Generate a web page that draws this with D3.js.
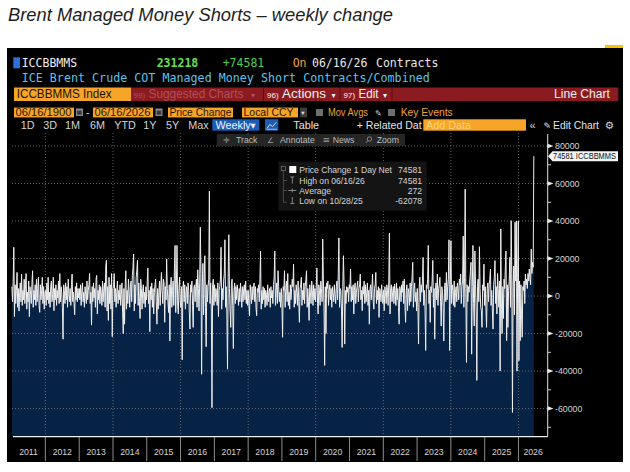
<!DOCTYPE html>
<html>
<head>
<meta charset="utf-8">
<script src="https://cdn.jsdelivr.net/npm/d3@7"></script>
<style>
  body { margin: 0; background: #fff; }
  svg { display: block; }
</style>
</head>
<body>
<div id="chart"></div>
<script>
// weekly change in managed money short contracts, thousands
var chg2011 = [5,-3,8,26,-11,6,-4,3,12.6,-6,4,-8,2,7,-3,11.7,-5,3,-2,9,-4,6,12,-7,2,-3,8,-11,5,1,-4,7,13.5,-6,3,-2,6,-5,9,-3,4,10,-5,-8.7,6,-2,3,10,-4,5,-7,2];
var chg2012 = [3,-5,7,-2,10,-4,2,-6,5,8,-3,1,10,-7.8,4,-2,6,-5,3,-1,8,-4,12,-3,5,2,-6,-23,6,3,-4,7,-2,5,-6,9,1,-3,4,-5,6,11.7,-3,2,-4,-10,5,-2,7,-3,4,-1];
var chg2013 = [4,-2,6,-5,3,7,-3,2,-6,5,1,-4,8,-2,3,6,12,-4,2,-15.5,5,-3,7,-1,4,-6,9,11,-9.6,3,-2,6,-4,5,2,-5,8,-3,4,7,-6,16,19,-8,5,-13,10,-4,6,-7,12,-21.7,4];
var chg2014 = [5,12,-3,4,-6,2,8,-4,3,-2,6,-5,1,7,-9,-20,4,-15,6,13.5,-7,3,-4,9,2,-6,5,8,-3,11,15,22.4,-8,6,-4,10,14,19,-5,7,-3,-12,9,4,-7,3,6,-4,2,-6,5,-2];
var chg2015 = [8,15,-4,3,-19,5,-2,7,-6,4,-9.6,2,6,9,-3,-15,4,-7,2,8,-5,6,12.6,3,-4,9,7,-14,5,-2,19.8,4,-3,-8.8,6,-24,5,10,-6,3,8,-5,14,27,-8.8,6,27,-5,-9.6,4,10,-3];
var chg2016 = [-6,5,-34,4,8,-3,6,-7,2,5,-4,7,3,-9,-17.6,6,2,8,-5,-16.7,4,6,-3,5,9,-6,14,4,-8,7,36.7,12,-41.7,5,17.4,-10,8,21.5,-6,-27,6,-3,5,9,56,-4,7,-8,-59.5,6,9,-5];
var chg2017 = [6,-3,4,2,-5,7,-11,3,5,9,26,-7,4,-2,8,12,30,-6,5,-10,-39,10,32.7,4,-8,-16.7,6,9,-5,-28,3,7,-4,5,-2,6,1,-5,4,-3,7,2,-6,5,-3,4,6,-2,8,-4,3,-5];
var chg2018 = [3,-5,-10.5,6,2,-4,5,-2,4,7,-3,5,-6,-10.5,4,2,6,-3,9,24,-7,3,-4,5,-2,4,-6,3,1,-5,6,-3,2,4,-6,5,-1,3,-4,6,10,24,-5,3,7,-4,13.5,5,-3,2,-6,4];
var chg2019 = [-4,-22,5,3,13.5,-6,4,8,-3,12,-5,2,-7,6,-2,4,9,5,17,-6,3,-4,6,2,-5,8,-3,-14,4,6,10,-5,3,-2,7,-4,5,9,13.5,-6,4,-3,-13,6,2,-4,8,3,-5,6,-2,4,-3];
var chg2020 = [5,15,-4,-9.6,6,3,-5,8,4,-3,30.4,9,-6,-37,5,-20,7,4,8,-5,3,6,-2,4,-6,5,2,-3,6,1,-4,5,8,-2,12,31,-6,4,3,-8,-27.4,5,21.5,6,-25.6,3,-4,5,2,4.6,-3,6];
var chg2021 = [4,14.4,-3,5,-2,6,-9.6,3,7,-4,2,5,8,-3,4,6,11.7,-2,3,-7.8,5,1,8,-4,6,-3,2,7,-5,3,-15,4,6,-2,5,11.7,-3,-7,4,6,12.6,-4,3,-2,5,-11.4,4,2,-3,6,1,-4];
var chg2022 = [3,-7.8,5,2,-4,6,3,-5,8,33.6,-9.6,4,6,-3,2,5,-4,6.4,3,-5,7,-2,4,-6,-15,5,3,-3,6,2,8,-4,9,-5,-14,3,6,-7.8,4,2,-5,7,-3,5,10,18,-6,4,7,-3,2,-8];
var chg2023 = [4,-6,-25.6,5,10,-3,6,2,8,20.6,-5,3,-7,-29,6,4,9,27,-4,3,-14,5,2,8,19,-6,4,-23,3,7,-2,11.7,-5,4,6,10,-3,-16,5,2,-6,-24,4,7,-3,12.6,-2,5,9,30,-29,6];
var chg2024 = [29.5,-4,6,3,-5,8,-6,2,5,-3,7,4,-2,9,6,11.7,-4,5,8,32,-6,10,57,4,-35.4,6,-3,5,2,8,13,18,-31,5,27,-4,-16,24,6,-8,-45,5,9,-3,26.3,4,-6,-7.8,-16.7,6,3,17,-5];
var chg2025 = [5,-6,-16.7,4,7,-3,6,9,14.4,-5,3,-8,-17.6,6,10,18.9,-4,5,-9.6,12,4,-6,8,-40,35.8,-7,-20,5,-12,9,4,15,24,-23.8,6,-16.7,3,8,20.6,-6,40.2,12,-62.078,5,16,-10,39.3,8,40,-40,10,40];
var chg2026 = [-34.5,8,-23.8,6,-10,-22,5,3,8,-4,11.7,6,9,4,12,8,14.4,10,6,25,12,18,15.3,74.581];

var lastWeek = "2026-06-16";
var years = [2011,2012,2013,2014,2015,2016,2017,2018,2019,2020,2021,2022,2023,2024,2025,2026];
var yTickValues = [-60000,-40000,-20000,0,20000,40000,60000,80000];
var yMinorValues = [-70000,-50000,-30000,-10000,10000,30000,50000,70000];
var legendLabels = ["Price Change 1 Day Net","High on 06/16/26","Average","Low on 10/28/25"];
var legendValues = ["74581","74581","272","-62078"];

var sans = "'Liberation Sans', Arial, sans-serif";
var mono = "'DejaVu Sans Mono', monospace";
var icons = "'DejaVu Sans', sans-serif";

var weeklyK = [].concat(chg2011, chg2012, chg2013, chg2014, chg2015, chg2016, chg2017, chg2018,
  chg2019, chg2020, chg2021, chg2022, chg2023, chg2024, chg2025, chg2026);
var lastDate = d3.timeParse("%Y-%m-%d")(lastWeek);
var data = weeklyK.map(function(v, i) {
  return { date: d3.timeDay.offset(lastDate, -7 * (weeklyK.length - 1 - i)), value: v * 1000 };
});

var svg = d3.select("#chart")
  .append("svg")
    .attr("width", 630)
    .attr("height", 472);

function label(x, y, s, size, fill, family, weight) {
  return svg.append("text")
    .attr("x", x).attr("y", y)
    .style("font-family", family || sans)
    .style("font-size", size + "px")
    .style("font-weight", weight || "normal")
    .style("fill", fill)
    .text(s);
}
function fit(sel, w) {
  return sel.attr("textLength", w).attr("lengthAdjust", "spacingAndGlyphs");
}

// title above the screenshot
fit(label(8, 21, "Brent Managed Money Shorts \u2013 weekly change", 18, "#1e1e1e")
  .style("font-style", "italic"), 385);

// terminal panel
svg.append("rect").attr("x", 7).attr("y", 48).attr("width", 616).attr("height", 414).style("fill", "#000");
svg.append("rect").attr("x", 605).attr("y", 45).attr("width", 18).attr("height", 3).style("fill", "#f5c400");

// scales
var x = d3.scaleTime()
  .domain([new Date(2011, 0, 1), new Date(2026, 10, 13)])
  .range([11.6, 547.7]);
var y = d3.scaleLinear()
  .domain([-75000, 86400])
  .range([436.7, 134]);

// area under the line
svg.append("path")
  .datum(data)
  .attr("d", d3.area()
    .x(function(d) { return x(d.date); })
    .y0(y.range()[0])
    .y1(function(d) { return y(d.value); }))
  .style("fill", "#062244");

// dotted grid
svg.append("g")
  .selectAll("line")
  .data(yTickValues)
  .enter()
  .append("line")
    .attr("x1", 12).attr("x2", 547)
    .attr("y1", function(d) { return y(d); })
    .attr("y2", function(d) { return y(d); })
    .style("stroke", "#8a8a8a").style("stroke-opacity", 0.7)
    .style("stroke-dasharray", "1,2");
svg.append("g")
  .selectAll("line")
  .data(years.filter(function(d) { return d % 2 == 0; }))
  .enter()
  .append("line")
    .attr("x1", function(d) { return x(new Date(d, 0, 1)); })
    .attr("x2", function(d) { return x(new Date(d, 0, 1)); })
    .attr("y1", 133).attr("y2", 436)
    .style("stroke", "#8a8a8a").style("stroke-opacity", 0.7)
    .style("stroke-dasharray", "1,2");

// the series
svg.append("path")
  .datum(data)
  .attr("d", d3.line()
    .x(function(d) { return x(d.date); })
    .y(function(d) { return y(d.value); }))
  .style("fill", "none")
  .style("stroke", "#eeeeee")
  .style("stroke-width", 1);

// X axis
svg.append("line")
  .attr("x1", 13).attr("x2", 547.7).attr("y1", 436.7).attr("y2", 436.7)
  .style("stroke", "#f0f0f0").style("stroke-width", 1.2);
svg.append("g")
  .selectAll("line")
  .data(years.slice(1))
  .enter()
  .append("line")
    .attr("x1", function(d) { return x(new Date(d, 0, 1)); })
    .attr("x2", function(d) { return x(new Date(d, 0, 1)); })
    .attr("y1", 437).attr("y2", 461)
    .style("stroke", "#b0b0b0").style("stroke-width", 0.8);
svg.append("g")
  .selectAll("text")
  .data(years)
  .enter()
  .append("text")
    .attr("x", function(d) {
      var a = x(new Date(d, 0, 1)), b = Math.min(x(new Date(d + 1, 0, 1)), x.range()[1]);
      return (Math.max(a, x.range()[0]) + b) / 2;
    })
    .attr("y", 455)
    .attr("text-anchor", "middle")
    .style("font-family", sans).style("font-size", "8.7px").style("fill", "#d4d4d4")
    .text(function(d) { return d; });

// Y axis
svg.append("line")
  .attr("x1", 547.7).attr("x2", 547.7).attr("y1", 134).attr("y2", 436.7)
  .style("stroke", "#e0e0e0").style("stroke-width", 1);
svg.append("g")
  .selectAll("path")
  .data(yTickValues)
  .enter()
  .append("path")
    .attr("d", function(d) { var t = y(d); return "M547.7," + (t - 2.2) + "L553.5," + t + "L547.7," + (t + 2.2) + "Z"; })
    .style("fill", "#e8e8e8");
svg.append("g")
  .selectAll("line")
  .data(yMinorValues)
  .enter()
  .append("line")
    .attr("x1", 547.7).attr("x2", 551)
    .attr("y1", function(d) { return y(d); })
    .attr("y2", function(d) { return y(d); })
    .style("stroke", "#d0d0d0");
svg.append("g")
  .selectAll("text")
  .data(yTickValues)
  .enter()
  .append("text")
    .attr("x", 555)
    .attr("y", function(d) { return y(d) + 3.2; })
    .style("font-family", sans).style("font-size", "8.8px").style("fill", "#d4d4d4")
    .text(function(d) { return d; });

// last value tag on the axis
var lastY = y(data[data.length - 1].value);
svg.append("path")
  .attr("d", "M548," + lastY + "L552.5," + (lastY - 5) + "L618," + (lastY - 5) + "L618," + (lastY + 5) + "L552.5," + (lastY + 5) + "Z")
  .style("fill", "#f4f4f4");
fit(label(553, lastY + 3, legendValues[0] + " ICCBBMMS", 8.3, "#111"), 63);

// row 1
svg.append("rect").attr("x", 13.3).attr("y", 57.3).attr("width", 6.7).attr("height", 11).style("fill", "#2f6fd8");
label(21.7, 66.5, "ICCBBMMS", 11.5, "#f0f0f0", mono);
label(156.7, 66.5, "231218", 11.5, "#63e04f", mono, "bold");
label(222.7, 66.5, "+74581", 11.5, "#4fcf4f", mono);
label(292.7, 66.5, "On", 11.5, "#f0a030", mono);
label(312, 66.5, "06/16/26", 11.5, "#eaeaea", mono);
label(376, 66.5, "Contracts", 11.5, "#eaeaea", mono);

// row 2
label(21.7, 81.6, "ICE Brent Crude COT Managed Money Short Contracts/Combined", 11.7, "#5cc3ea", mono);

// row 3
svg.append("rect").attr("x", 14).attr("y", 87.5).attr("width", 117).attr("height", 13.5).style("fill", "#f7a528");
fit(label(16.7, 98.2, "ICCBBMMS Index", 12.5, "#1a1000"), 95);
svg.append("rect").attr("x", 131).attr("y", 87.5).attr("width", 487.3).attr("height", 13.5).style("fill", "#8a1b20");
label(133.5, 98, "99)", 8, "#b5505a");
fit(label(148.5, 98.2, "Suggested Charts", 12.5, "#b5505a"), 95);
label(251, 97.5, "\u25BE", 8, "#b5505a", icons);
svg.append("line").attr("x1", 263.5).attr("x2", 263.5).attr("y1", 88).attr("y2", 100.5).style("stroke", "#5a0e12");
label(267, 98, "96)", 8, "#f2f2f2");
fit(label(282, 98.2, "Actions", 12.5, "#f2f2f2"), 44);
label(331.5, 97.5, "\u25BE", 8, "#f2f2f2", icons);
svg.append("line").attr("x1", 340).attr("x2", 340).attr("y1", 88).attr("y2", 100.5).style("stroke", "#5a0e12");
label(343.5, 98, "97)", 8, "#f2f2f2");
fit(label(358.5, 98.2, "Edit", 12.5, "#f2f2f2"), 20);
label(383, 97.5, "\u25BE", 8, "#f2f2f2", icons);
svg.append("line").attr("x1", 392).attr("x2", 392).attr("y1", 88).attr("y2", 100.5).style("stroke", "#5a0e12");
fit(label(554, 98.2, "Line Chart", 12.5, "#f2f2f2"), 56);

// row 4
function calendar(cx) {
  svg.append("rect").attr("x", cx).attr("y", 108.5).attr("width", 7).attr("height", 7.5).style("fill", "#8a8a8a");
  svg.append("rect").attr("x", cx + 1.2).attr("y", 110.6).attr("width", 4.6).attr("height", 4.2).style("fill", "#3a3a3a");
}
svg.append("rect").attr("x", 14).attr("y", 107.6).attr("width", 60).attr("height", 9.8).style("fill", "#f7a528");
fit(label(15.5, 116, "06/16/1900", 11, "#241600"), 56);
calendar(76);
label(86, 116, "-", 10.5, "#e0e0e0");
svg.append("rect").attr("x", 93).attr("y", 107.6).attr("width", 60).attr("height", 9.8).style("fill", "#f7a528");
fit(label(94.5, 116, "06/16/2026", 11, "#241600"), 56);
calendar(155.5);
svg.append("rect").attr("x", 168).attr("y", 107.6).attr("width", 65).attr("height", 9.8).style("fill", "#f7a528");
fit(label(169.5, 116, "Price Change", 11, "#241600"), 62);
svg.append("rect").attr("x", 242).attr("y", 107.6).attr("width", 56).attr("height", 9.8).style("fill", "#f7a528");
fit(label(243.5, 116, "Local CCY", 11, "#241600"), 50);
svg.append("rect").attr("x", 300).attr("y", 107.6).attr("width", 7).attr("height", 9.8).style("fill", "#3c3c3c");
label(301.3, 114.8, "\u25BE", 6.5, "#e0e0e0", icons);
svg.append("rect").attr("x", 316).attr("y", 109).attr("width", 7).attr("height", 7).style("fill", "#6e6e6e");
fit(label(328, 116, "Mov Avgs", 11, "#f0a030"), 40);
label(375, 115.8, "\u270E", 8, "#d8d8d8", icons);
svg.append("rect").attr("x", 388).attr("y", 109).attr("width", 7).attr("height", 7).style("fill", "#6e6e6e");
fit(label(400.7, 116, "Key Events", 11, "#f0a030"), 52);

// row 5
var periods = [["1D", 20.7], ["3D", 43.3], ["1M", 65], ["6M", 90], ["YTD", 114.3], ["1Y", 143.3], ["5Y", 166], ["Max", 188.3]];
periods.forEach(function(p) { label(p[1], 128.8, p[0], 10.8, "#d4d4d4"); });
svg.append("rect").attr("x", 212.3).attr("y", 119.3).attr("width", 47).attr("height", 11.4).style("fill", "#1c5cb6");
label(215.5, 128.8, "Weekly", 10.8, "#f4f4f4");
label(250.5, 128.2, "\u25BC", 6.5, "#f4f4f4", icons);
svg.append("rect").attr("x", 265).attr("y", 119.3).attr("width", 13.3).attr("height", 11.4).style("fill", "#1c5cb6");
svg.append("path").attr("d", "M267,128.5L269.8,124.5L272.6,126.5L276.3,122.3").style("fill", "none").style("stroke", "#e8e8e8").style("stroke-width", 0.9);
svg.append("line").attr("x1", 266.5).attr("x2", 277).attr("y1", 129.3).attr("y2", 129.3).style("stroke", "#e8e8e8").style("stroke-width", 0.7);
label(293.3, 128.8, "Table", 10.8, "#e4e4e4");
fit(label(356.7, 128.8, "+ Related Dat", 10.8, "#e4e4e4"), 65);
svg.append("rect").attr("x", 423.3).attr("y", 119.3).attr("width", 102.7).attr("height", 11.4).style("fill", "#f7a528");
label(426, 128.8, "Add Data", 10.8, "#ffd27a");
label(529.5, 128.8, "\u00AB", 11, "#d4d4d4");
label(543.5, 128.6, "\u270E", 9, "#e4e4e4", icons);
fit(label(553, 128.8, "Edit Chart", 10.8, "#e4e4e4"), 46);
label(604.5, 129, "\u2699", 10.5, "#d4d4d4", icons);

// row 6
svg.append("rect").attr("x", 216.7).attr("y", 134).attr("width", 188.3).attr("height", 12).style("fill", "#252525");
label(223, 143.2, "\u271B", 8, "#9a9a9a", icons);
label(236, 143.2, "Track", 8.7, "#bdbdbd");
label(267, 143.2, "\u2220", 8, "#9a9a9a", icons);
label(280, 143.2, "Annotate", 8.7, "#bdbdbd");
label(322.5, 143.2, "\u2261", 9, "#9a9a9a", icons);
label(332.7, 143.2, "News", 8.7, "#bdbdbd");
svg.append("circle").attr("cx", 369.5).attr("cy", 139).attr("r", 2.2).style("fill", "none").style("stroke", "#9a9a9a").style("stroke-width", 0.8);
svg.append("line").attr("x1", 368).attr("x2", 366).attr("y1", 140.6).attr("y2", 142.8).style("stroke", "#9a9a9a").style("stroke-width", 0.9);
label(376.7, 143.2, "Zoom", 8.7, "#bdbdbd");

// legend box
svg.append("rect").attr("x", 278.3).attr("y", 161.7).attr("width", 148.4).attr("height", 49).style("fill", "#141414");
svg.append("rect").attr("x", 281.2).attr("y", 166.3).attr("width", 4.4).attr("height", 4.4).style("fill", "none").style("stroke", "#8a8a8a").style("stroke-width", 0.6);
svg.append("path").attr("d", "M283.4,170.7V202.3M283.4,180.5H287M283.4,190.5H287M283.4,202.3H287").style("fill", "none").style("stroke", "#6a6a6a").style("stroke-width", 0.6);
svg.append("rect").attr("x", 289.3).attr("y", 166).attr("width", 7).attr("height", 7).style("fill", "#ffffff");
svg.append("path").attr("d", "M290.3,177H294.3M292.3,177V183.5").style("fill", "none").style("stroke", "#a0a0a0").style("stroke-width", 0.8);
svg.append("path").attr("d", "M288.3,190.5H296.3M292.3,188.5V192.5").style("fill", "none").style("stroke", "#a0a0a0").style("stroke-width", 0.8);
svg.append("path").attr("d", "M292.3,197V203.5M290.3,203.5H294.3").style("fill", "none").style("stroke", "#a0a0a0").style("stroke-width", 0.8);
svg.append("g")
  .selectAll("text")
  .data(legendLabels)
  .enter()
  .append("text")
    .attr("x", 299.3)
    .attr("y", function(d, i) { return [173.3, 183.5, 193.6, 204][i]; })
    .style("font-family", sans).style("font-size", "8.6px").style("fill", "#d6d6d6")
    .text(function(d) { return d; });
svg.append("g")
  .selectAll("text")
  .data(legendValues)
  .enter()
  .append("text")
    .attr("x", 422)
    .attr("y", function(d, i) { return [173.3, 183.5, 193.6, 204][i]; })
    .attr("text-anchor", "end")
    .style("font-family", sans).style("font-size", "8.6px").style("fill", "#d6d6d6")
    .text(function(d) { return d; });
</script>
</body>
</html>
